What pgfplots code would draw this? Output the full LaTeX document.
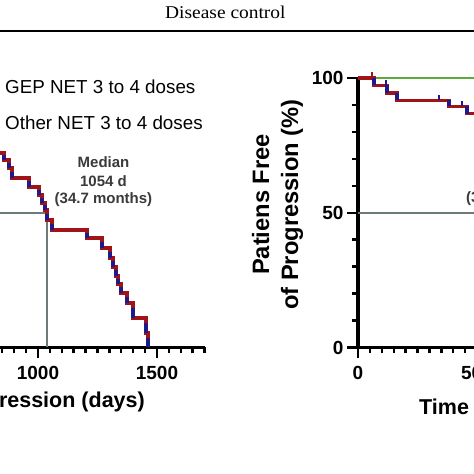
\documentclass[border=0pt]{standalone}
\usepackage{fontspec}
\setmainfont{Liberation Sans}
\newfontfamily\serifdoc[FakeStretch=1.08]{Liberation Serif}
\usepackage{pgfplots}
\pgfplotsset{compat=1.18}
\definecolor{kmred}{HTML}{A01418}
\definecolor{kmblue}{HTML}{1C1A8C}
\definecolor{kmgreen}{HTML}{5DAA3C}
\definecolor{medgray}{HTML}{6B7A7A}
\definecolor{anno}{HTML}{3A3A3A}
\newcommand\tickfont{\fontsize{19}{22}\selectfont\bfseries}
\pgfplotsset{kmaxis/.style={
  scale only axis, width=404.6pt, height=269.5pt,
  xmin=0,xmax=1700,ymin=0,ymax=100,
  axis lines=left, axis line style={line width=3.2pt,-,black},
  xtick={0,500,1000,1500}, minor xtick={0,50,...,1700},
  ytick={0,50,100}, minor ytick={0,10,...,100},
  tick align=outside, major tick length=11pt, minor tick length=6pt,
  tick style={line width=2.4pt,black},
  tick label style={font=\tickfont},
  xticklabel style={yshift=-4pt},
  /pgf/number format/assume math mode=true,
  /pgf/number format/1000 sep={},
  clip=false, unbounded coords=jump,
  anchor=south west,
}}
\begin{document}
\begin{tikzpicture}[x=1pt,y=1pt]
\useasboundingbox (0,0) rectangle (474,474);
\clip (0,0) rectangle (474,474);
\fill[white] (0,0) rectangle (474,474);
% header
\node[anchor=base west, inner sep=0, font=\serifdoc\fontsize{18}{20}\selectfont] at (165,455.7) {Disease control};
\draw[line width=2.2pt] (-5,443.3) -- (480,443.3);
% ---------------- left panel
\begin{axis}[kmaxis, at={(-200pt,126.5pt)}]
\addplot[medgray, line width=2pt] coordinates {(0,50) (1036,50) (1036,0)};
\addplot[kmred, line width=3.3pt, const plot] coordinates {
(800,72.2) (857,69.6) (878,66.6) (891,62.9) (962,59.5) (1004,56.6) (1017,53.6)
(1029,51.0) (1038,47.3) (1059,43.6) (1206,40.6) (1269,36.9) (1302,33.2)
(1315,29.9) (1328,26.5) (1336,23.6) (1349,20.2) (1374,16.5) (1399,10.9)
(1454,5.4) (1462,0)};
\addplot[kmblue, line width=3.3pt] coordinates {
(857,69.6) (857,71.3) (nan,nan)
(878,66.6) (878,68.6) (nan,nan)
(891,62.9) (891,65.3) (nan,nan)
(962,59.5) (962,61.7) (nan,nan)
(1004,56.6) (1004,58.5) (nan,nan)
(1017,53.6) (1017,55.6) (nan,nan)
(1029,51.0) (1029,52.7) (nan,nan)
(1038,47.3) (1038,49.7) (nan,nan)
(1059,43.6) (1059,46.0) (nan,nan)
(1206,40.6) (1206,42.6) (nan,nan)
(1269,36.9) (1269,39.3) (nan,nan)
(1302,33.2) (1302,35.6) (nan,nan)
(1315,29.9) (1315,32.0) (nan,nan)
(1328,26.5) (1328,28.7) (nan,nan)
(1336,23.6) (1336,25.5) (nan,nan)
(1349,20.2) (1349,22.4) (nan,nan)
(1374,16.5) (1374,18.9) (nan,nan)
(1399,10.9) (1399,14.5) (nan,nan)
(1454,5.4) (1454,9.0) (nan,nan)
(1462,0) (1462,3.5)};
\end{axis}
% ---------------- right panel
\begin{axis}[kmaxis, at={(358pt,126.5pt)}]
\addplot[kmgreen, line width=1.6pt] coordinates {(0,100) (1500,100)};
\addplot[medgray, line width=2pt] coordinates {(0,50) (700,50)};
\addplot[kmred, line width=3.3pt, const plot] coordinates {
(0,100) (67,97.3) (122,94.4) (164,91.7) (382,89.5) (458,86.8) (700,86.8)};
\addplot[kmred, line width=2pt] coordinates {(59,100) (59,102.3)};
\addplot[kmblue, line width=3.3pt] coordinates {
(67,97.3) (67,100) (nan,nan)
(122,94.4) (122,97.3) (nan,nan)
(164,91.7) (164,94.4) (nan,nan)
(382,89.5) (382,91.7) (nan,nan)
(458,86.8) (458,89.5)};
\addplot[kmblue, line width=2pt] coordinates {
(118,97.3) (118,99.3) (nan,nan)
(340,91.7) (340,93.7) (nan,nan)
(437,89.5) (437,91.5)};
\end{axis}
% legend texts
\node[anchor=base west, inner sep=0, font=\fontsize{18.8}{22}\selectfont] at (5,380) {GEP NET 3 to 4 doses};
\node[anchor=base west, inner sep=0, font=\fontsize{18.8}{22}\selectfont] at (5,344.5) {Other NET 3 to 4 doses};
% median annotation
\node[anchor=base, inner sep=0, font=\fontsize{15}{18}\selectfont\bfseries, text=anno] at (103.5,306.3) {Median};
\node[anchor=base, inner sep=0, font=\fontsize{15}{18}\selectfont\bfseries, text=anno] at (103.5,287.3) {1054 d};
\node[anchor=base, inner sep=0, font=\fontsize{15}{18}\selectfont\bfseries, text=anno] at (103.5,270) {(34.7 months)};
\node[anchor=base west, inner sep=0, font=\fontsize{15}{18}\selectfont\bfseries, text=anno] at (466,271) {(36.0 months)};
% axis titles
\node[anchor=base east, inner sep=0, font=\fontsize{21.5}{25}\selectfont\bfseries] at (145,66) {Time to Progression (days)};
\node[anchor=base west, inner sep=0, font=\fontsize{21.5}{25}\selectfont\bfseries] at (419,59.5) {Time to Progression (days)};
\node[rotate=90, align=center, inner sep=0, font=\fontsize{23.7}{29}\selectfont\bfseries] at (277.5,269.5) {Patiens Free\\of Progression (\%)};
\end{tikzpicture}
\end{document}
